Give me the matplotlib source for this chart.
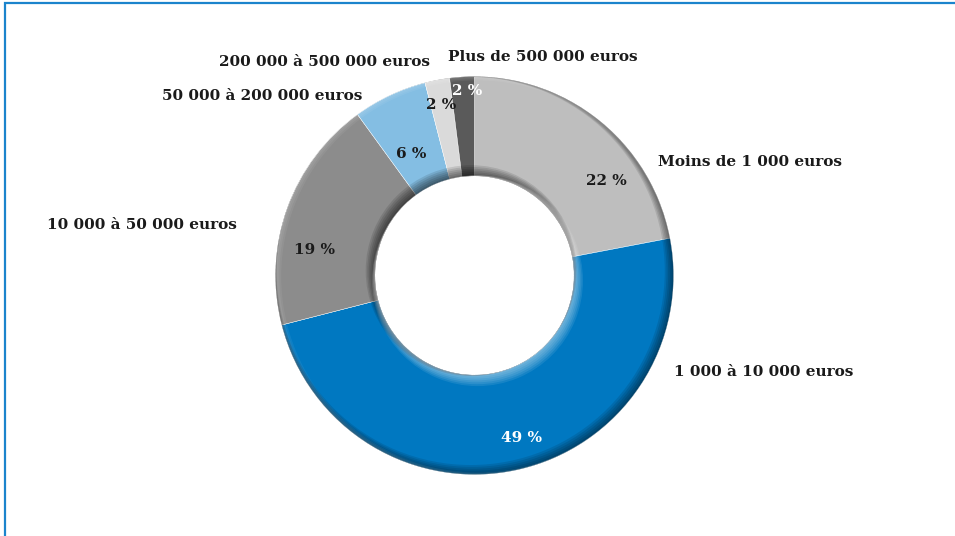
import matplotlib.pyplot as plt
from matplotlib.patches import Wedge

categories = ['Moins de 1 000 euros', '1 000 à 10 000 euros', '10 000 à 50 000 euros',
              '50 000 à 200 000 euros', '200 000 à 500 000 euros', 'Plus de 500 000 euros']
shares = [22, 49, 19, 6, 2, 2]
pct_labels = ['22 %', '49 %', '19 %', '6 %', '2 %', '2 %']
colors = ['#bebebe', '#0078c1', '#8c8c8c', '#84bee3', '#dadada', '#5a5a5a']
pct_colors = ['#1a1a1a', 'white', '#1a1a1a', '#1a1a1a', '#1a1a1a', 'white']

# layout in pixel units (y up)
W, H = 955, 536
cx, cy = 474.5, H - 275.5
R = 199
ring = 99.5

cat_pos = [(658, 162, 'left'), (674, 372, 'left'), (237, 225, 'right'),
           (362, 96, 'right'), (430, 62, 'right'), (448, 57, 'left')]
pct_pos = [(606, 181), (521, 438), (314, 250), (411, 154), (441, 105), (467, 91)]

plt.rcParams['font.family'] = ['DejaVu Serif']

fig = plt.figure(figsize=(W / 100, H / 100), dpi=100)
ax = fig.add_axes([0, 0, 1, 1])

wedges, _ = ax.pie(shares, colors=colors, startangle=90, counterclock=False,
                   center=(cx, cy), radius=R, frame=True,
                   wedgeprops=dict(width=ring, edgecolor='white', linewidth=0.3))
ax.set_xlim(0, W)
ax.set_ylim(0, H)
ax.set_aspect('auto')
ax.axis('off')

# clip region = the donut itself
donut = Wedge((cx, cy), R, 0, 360, width=ring, transform=ax.transData)
r_in = R - ring

# inner shadow at the top-left of the hole
for s in range(1, 7):
    sh = Wedge((cx - s * 0.55, cy + s * 0.8), r_in + s, 0, 360, width=60 + s,
               facecolor='black', alpha=0.11, linewidth=0)
    ax.add_patch(sh)
    sh.set_clip_path(donut)

# light glow at the bottom-right of the hole
for s in range(1, 7):
    gl = Wedge((cx + s * 0.5, cy - s * 0.85), r_in + s, 0, 360, width=60 + s,
               facecolor='white', alpha=0.09, linewidth=0)
    ax.add_patch(gl)
    gl.set_clip_path(donut)

# dark outer rim at the bottom-right
for s in range(1, 6):
    rim = Wedge((cx - s * 0.75, cy + s * 0.9), R + 60, 0, 360, width=60 + s,
                facecolor='black', alpha=0.1, linewidth=0)
    ax.add_patch(rim)
    rim.set_clip_path(donut)

# faint highlight on the outer left edge
for s in range(1, 4):
    hl = Wedge((cx + s * 0.9, cy - s * 0.3), R + 60, 0, 360, width=60 + s,
               facecolor='white', alpha=0.06, linewidth=0)
    ax.add_patch(hl)
    hl.set_clip_path(donut)

for (x, y, ha), name in zip(cat_pos, categories):
    ax.text(x, H - y, name, ha=ha, va='center', fontsize=11,
            fontweight='bold', color='#1a1a1a')

for (x, y), lab, c in zip(pct_pos, pct_labels, pct_colors):
    ax.text(x, H - y, lab, ha='center', va='center', fontsize=11,
            fontweight='bold', color=c)

# blue frame
ax.plot([4.5, 4.5, W + 5], [-5, H - 2.5, H - 2.5], color='#1b84cc',
        linewidth=1.6, solid_joinstyle='miter', clip_on=False)

fig.savefig('out.png', dpi=100)
